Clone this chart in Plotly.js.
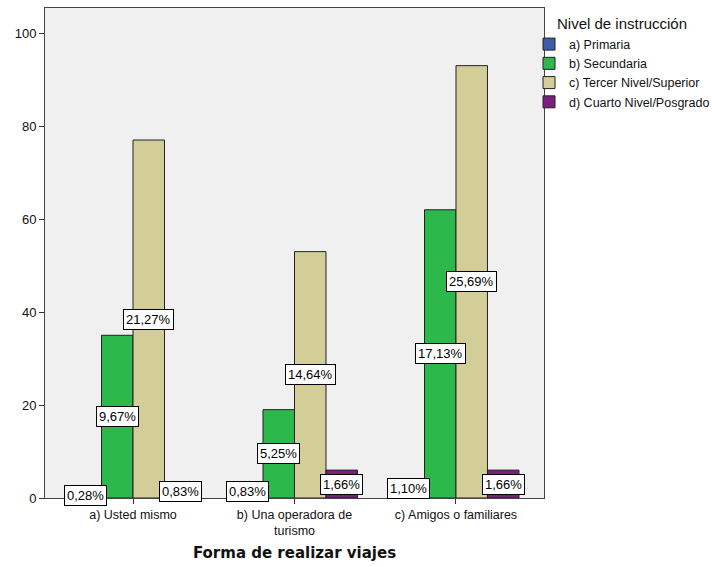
<!DOCTYPE html>
<html>
<head>
<meta charset="utf-8">
<script src="https://cdn.plot.ly/plotly-3.0.1.min.js"></script>
<style>html,body{margin:0;padding:0;background:#fff;}#chart{width:712px;height:567px;}</style>
</head>
<body>
<div id="chart"></div>
<script>
// Data
const categories = ["a) Usted mismo", "b) Una operadora de<br>turismo", "c) Amigos o familiares"];
const seriesNames = ["a) Primaria", "b) Secundaria", "c) Tercer Nivel/Superior", "d) Cuarto Nivel/Posgrado"];
const primaria = [1, 3, 4];
const secundaria = [35, 19, 62];
const tercerNivel = [77, 53, 93];
const cuartoNivel = [3, 6, 6];
const primariaLabels = ["0,28%", "0,83%", "1,10%"];
const secundariaLabels = ["9,67%", "5,25%", "17,13%"];
const tercerNivelLabels = ["21,27%", "14,64%", "25,69%"];
const cuartoNivelLabels = ["0,83%", "1,66%", "1,66%"];
const yTicks = [0, 20, 40, 60, 80, 100];

const seriesValues = [primaria, secundaria, tercerNivel, cuartoNivel];
const seriesLabels = [primariaLabels, secundariaLabels, tercerNivelLabels, cuartoNivelLabels];
const colors = ["#3F5BA9", "#2DB84B", "#D3CE97", "#7B1F7F"];

const bargap = 0.22;
const nSeries = seriesValues.length;
const barW = (1 - bargap) / nSeries;

const traces = seriesValues.map((vals, i) => ({
  type: "bar",
  name: seriesNames[i],
  x: categories,
  y: vals,
  marker: {color: colors[i], line: {color: "#222", width: 1}},
  hoverinfo: "skip"
}));

const annotations = [];
seriesValues.forEach((vals, i) => {
  const off = -(1 - bargap) / 2 + barW * (i + 0.5);
  vals.forEach((v, j) => {
    annotations.push({
      x: j + off, y: v / 2, xref: "x", yref: "y",
      text: seriesLabels[i][j], showarrow: false,
      font: {family: "Liberation Sans, Arial, sans-serif", size: 13, color: "#000"},
      bgcolor: "#fff", bordercolor: "#000", borderwidth: 1, borderpad: 2
    });
  });
});

const layout = {
  width: 712, height: 567,
  margin: {l: 45, r: 168, t: 8, b: 69, autoexpand: false},
  paper_bgcolor: "#fff",
  plot_bgcolor: "#F0F0F0",
  barmode: "group",
  bargap: bargap,
  bargroupgap: 0,
  font: {family: "Liberation Sans, Arial, sans-serif", size: 13, color: "#111"},
  xaxis: {
    type: "category",
    range: [-0.545, 2.545],
    showline: true, mirror: true, linecolor: "#444", linewidth: 1,
    ticks: "outside", ticklen: 5, tickcolor: "#333",
    tickfont: {size: 12.5, color: "#111"},
    showgrid: false, zeroline: false,
    title: {text: "Forma de realizar viajes", font: {family: "DejaVu Sans, sans-serif", size: 15, color: "#111", weight: "bold"}, standoff: 10}
  },
  yaxis: {
    range: [0, 105.4],
    tickvals: yTicks,
    showline: true, mirror: true, linecolor: "#444", linewidth: 1,
    ticks: "outside", ticklen: 5, tickcolor: "#333",
    tickfont: {size: 13, color: "#111"},
    showgrid: false, zeroline: false
  },
  showlegend: true,
  legend: {
    x: 0.970, xanchor: "left", y: 0.996, yanchor: "top",
    bgcolor: "rgba(0,0,0,0)",
    font: {size: 12.5, color: "#111"},
    title: {text: "Nivel de instrucción", side: "top center", font: {size: 15, color: "#111"}},
    tracegroupgap: 0,
    itemwidth: 30
  },
  annotations: annotations
};

Plotly.newPlot("chart", traces, layout, {displayModeBar: false, staticPlot: true});
</script>
</body>
</html>
